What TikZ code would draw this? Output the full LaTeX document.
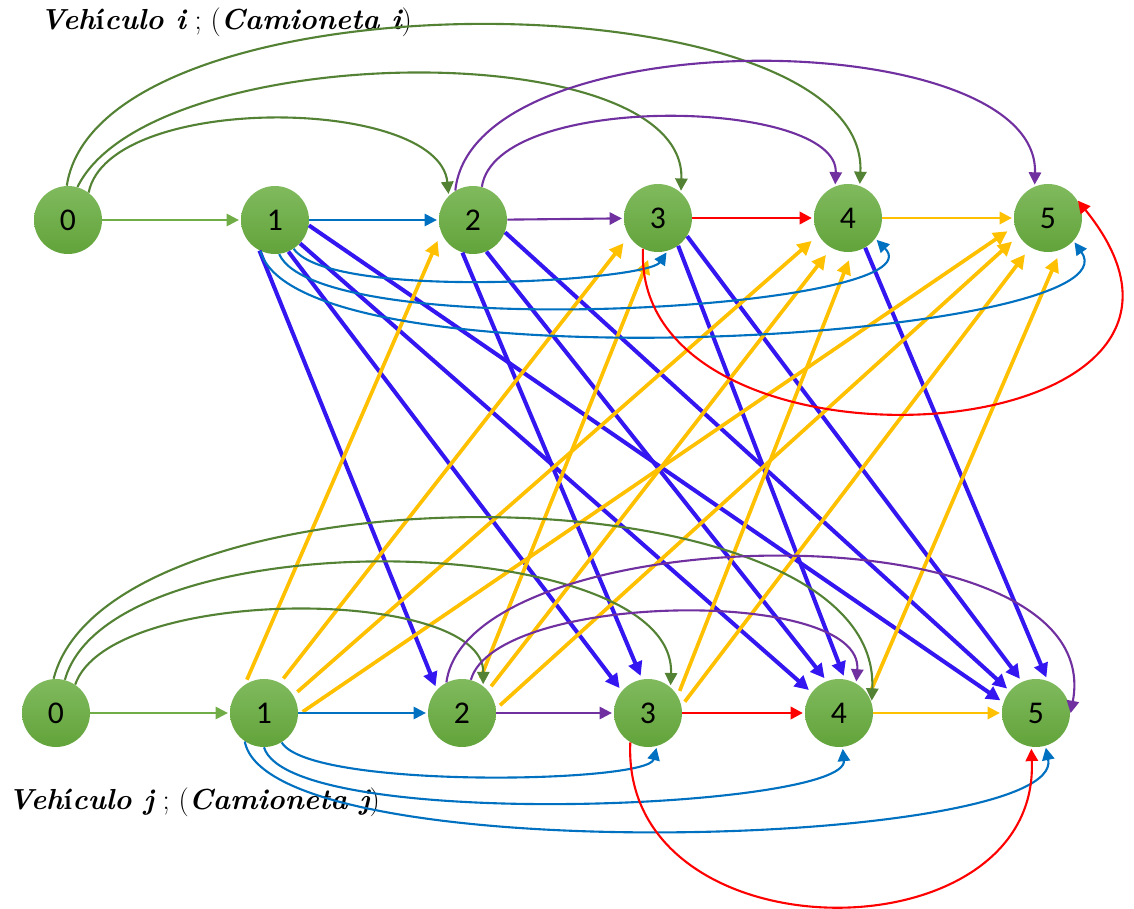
\documentclass[tikz,border=0pt]{standalone}
\usepackage{fontspec}
\newfontfamily\numfont{Carlito}
\usetikzlibrary{arrows.meta}
\definecolor{nodetop}{HTML}{80BA5E}
\definecolor{nodebot}{HTML}{62A33A}
\definecolor{lgreen}{HTML}{70AD47}
\definecolor{dgreen}{HTML}{548235}
\definecolor{cblue}{HTML}{0070C0}
\definecolor{cpurple}{HTML}{7030A0}
\definecolor{cred}{HTML}{FF0000}
\definecolor{cyellow}{HTML}{FFC000}
\definecolor{dblue}{HTML}{3416F0}
\newcommand{\vehlabel}[1]{{\bfseries\itshape Veh}{\bfseries í}{\bfseries\itshape culo #1} ; ({\bfseries\itshape Camioneta #1})}

\begin{document}
\begin{tikzpicture}[x=0.02cm, y=-0.02cm,
  roundnode/.style={circle, top color=nodetop, bottom color=nodebot, minimum size=1.36cm, inner sep=0pt, font=\numfont\fontsize{18}{21}\selectfont},
  thinline/.style={line width=1.2pt, -{Triangle[length=7pt,width=7pt]}, shorten >=1pt},
  dline/.style={dblue, line width=2.3pt, -{Triangle[length=8pt,width=8pt]}, shorten >=2pt},
  yline/.style={cyellow, line width=2.1pt, -{Triangle[length=8pt,width=8pt]}, shorten >=5pt, shorten <=3pt},
  vlabel/.style={anchor=west, font=\fontsize{16.5}{19}\selectfont}]
\useasboundingbox (0,0) rectangle (1134,909);

%Nodes
\node[roundnode] (t0) at (68,220) {0};
\node[roundnode] (t1) at (275,220) {1};
\node[roundnode] (t2) at (473,220) {2};
\node[roundnode] (t3) at (658,218) {3};
\node[roundnode] (t4) at (848,218) {4};
\node[roundnode] (t5) at (1048,218) {5};

\node[roundnode] (b0) at (56,713) {0};
\node[roundnode] (b1) at (264,713) {1};
\node[roundnode] (b2) at (462,713) {2};
\node[roundnode] (b3) at (648,713) {3};
\node[roundnode] (b4) at (839,713) {4};
\node[roundnode] (b5) at (1036,713) {5};

\node[vlabel] (labi) at (34,22) {\vehlabel{i}};
\node[vlabel] (labj) at (2,802) {\vehlabel{j}};

%diagonal lines, i to j
\draw[dline] (t1.-117) -- (b2.137);
\draw[dline] (t1.-67) -- (b3.140);
\draw[dline] (t1.-43) -- (b4.143);
\draw[dline] (t1.-9) -- (b5.162);
\draw[dline] (t2.-108) -- (b3.100);
\draw[dline] (t2.-67) -- (b4.111);
\draw[dline] (t2.-21) -- (b5.140);
\draw[dline] (t3.-54) -- (b4.80);
\draw[dline] (t3.-32) -- (b5.114);
\draw[dline] (t4.-60) -- (b5.70);

%diagonal lines, j to i
\draw[yline] (b1.124) -- (t2.-158);
\draw[yline] (b1.62) -- (t3.-148);
\draw[yline] (b1.31) -- (t4.-150);
\draw[yline] (b1.-3) -- (t5.-166);
\draw[yline] (b2.61) -- (t3.-101);
\draw[yline] (b2.41) -- (t4.-119);
\draw[yline] (b2.7) -- (t5.-149);
\draw[yline] (b3.30) -- (t4.-83);
\draw[yline] (b3.12) -- (t5.-121);
\draw[yline] (b4.30) -- (t5.-68);

%line, vehiculo i
\draw[thinline, lgreen] (t0) -- (t1);
\draw[thinline, cblue] (t1) -- (t2);
\draw[thinline, cpurple] (t2) -- (t3);
\draw[thinline, cred, line width=1.6pt] (t3) -- (t4);
\draw[thinline, cyellow, line width=1.4pt] (t4) -- (t5);

\draw[thinline, dgreen] (t0.53) .. controls +(20,-100) and +(-10,-100) .. (t2.135);
\draw[thinline, dgreen] (t0.74) .. controls +(73,-148) and +(5,-160) .. (t3.48);
\draw[thinline, dgreen] (t0.92) .. controls +(33,-217) and +(10,-210) .. (t4.70);

\draw[thinline, cpurple] (t2.75) .. controls +(14,-96) and +(4,-88) .. (t4.112);
\draw[thinline, cpurple] (t2.121) .. controls +(18,-173) and +(5,-163) .. (t5.113);

\draw[thinline, cblue] (t1.-57) .. controls +(37,52) and +(-20,30) .. (t3.-74);
\draw[thinline, cblue] (t1.-83) .. controls +(41,92) and +(69,70) .. (t4.-37);
\draw[thinline, cblue] (t1.-115) .. controls +(39,140) and +(70,98) .. (t5.-42);

\draw[thinline, cred] (t3.-116) .. controls +(-11,247) and +(206,255) .. (t5.33);

%line, vehiculo j
\draw[thinline, lgreen] (b0) -- (b1);
\draw[thinline, cblue] (b1) -- (b2);
\draw[thinline, cpurple] (b2) -- (b3);
\draw[thinline, cred, line width=1.6pt] (b3) -- (b4);
\draw[thinline, cyellow, line width=1.4pt] (b4) -- (b5);

\draw[thinline, dgreen] (b0.56) .. controls +(35,-100) and +(1,-100) .. (b2.52);
\draw[thinline, dgreen] (b0.75) .. controls +(46,-163) and +(6,-158) .. (b3.49);
\draw[thinline, dgreen] (b0.94) .. controls +(56,-218) and +(11,-240) .. (b4.18);

\draw[thinline, cpurple] (b2.75) .. controls +(25,-88) and +(8,-97) .. (b4.60);
\draw[thinline, cpurple] (b2.117) .. controls +(22,-165) and +(40,-212) .. (b5.-3);

\draw[thinline, cblue] (b1.-59) .. controls +(28,47) and +(-9,37) .. (b3.-75);
\draw[thinline, cblue] (b1.-90) .. controls +(26,85) and +(6,62) .. (b4.-84);
\draw[thinline, cblue] (b1.-124) .. controls +(24,130) and +(21,102) .. (b5.-74);

\draw[thinline, cred] (b3.-121) .. controls +(-10,217) and +(9,213) .. (b5.-98);

\end{tikzpicture}
\end{document}
